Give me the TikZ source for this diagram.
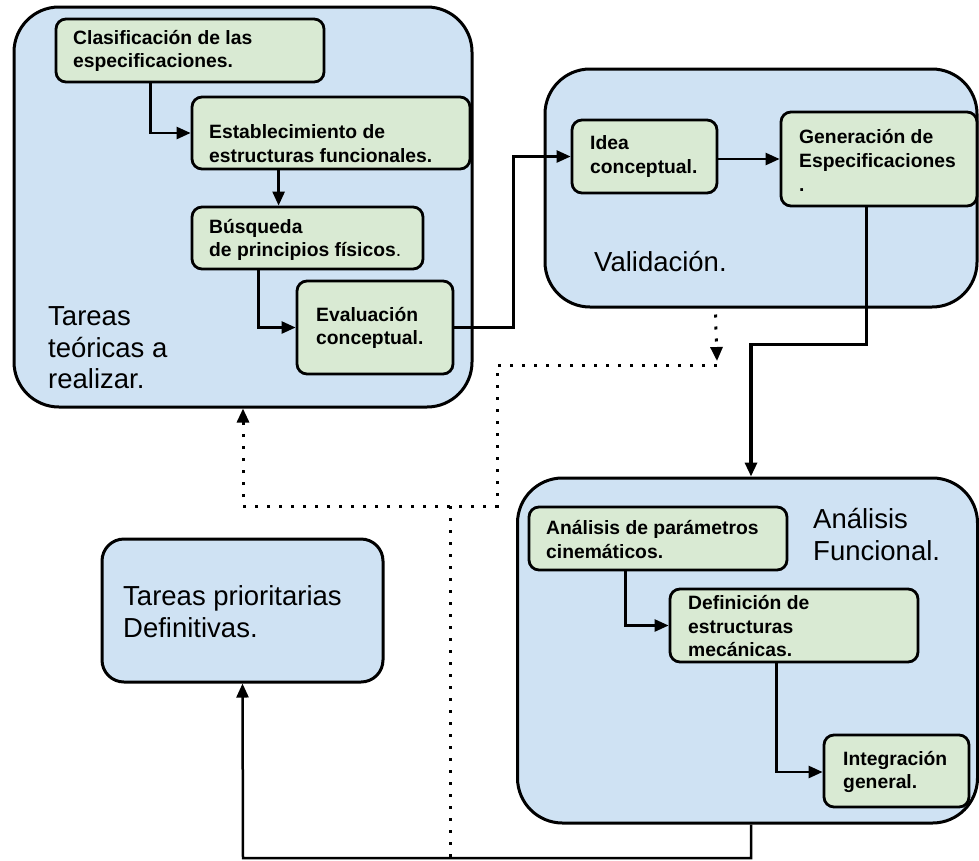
\documentclass[tikz,border=0pt]{standalone}
\usepackage{fontspec}
\setmainfont{Liberation Sans}
\usetikzlibrary{arrows.meta}
\definecolor{bluefill}{HTML}{CFE2F3}
\definecolor{greenfill}{HTML}{D9EAD3}
\tikzset{
  bigbox/.style={draw=black, line width=3pt, fill=bluefill, rounded corners=45pt, inner sep=0pt},
  smallbluebox/.style={draw=black, line width=3pt, fill=bluefill, rounded corners=22pt, inner sep=0pt},
  greenbox/.style={draw=black, line width=2.8pt, fill=greenfill, rounded corners=10pt, inner sep=0pt},
  bigtext/.style={anchor=west, inner sep=0pt, align=left, font=\fontsize{27.5}{31.5}\selectfont},
  boldtext/.style={anchor=west, inner sep=0pt, align=left, font=\fontsize{19.3}{23.5}\selectfont\bfseries},
  conn/.style={draw=black, line width=2.5pt, -{Triangle[length=14pt,width=12pt]}},
  dotline/.style={draw=black, line width=3pt, dash pattern=on 3pt off 9pt},
  dotarrow/.style={dotline, -{Triangle[length=14pt,width=12pt]}},
}
\begin{document}
\begin{tikzpicture}[x=1pt,y=-1pt]
\useasboundingbox (0,0) rectangle (979,860);
\fill[white] (0,0) rectangle (979,860);

% big containers
\node[bigbox, minimum width=458pt, minimum height=400pt] (B1) at (243,207) {};
\node[bigbox, minimum width=432pt, minimum height=238pt] (B2) at (761,188) {};
\node[bigbox, minimum width=460pt, minimum height=345pt] (B3) at (747.5,650.5) {};
\node[smallbluebox, minimum width=281pt, minimum height=143pt] (B4) at (242.5,610.5) {};

% container labels
\node[bigtext] (T1) at (48,348) {Tareas\\teóricas a\\realizar.};
\node[bigtext] (T2) at (594,262) {Validación.};
\node[bigtext] (T3) at (813,534.5) {Análisis\\Funcional.};
\node[bigtext] (T4) at (123,611.5) {Tareas prioritarias\\Definitivas.};

% green boxes
\node[greenbox, minimum width=268pt, minimum height=63pt] (G1) at (190,50.5) {};
\node[greenbox, minimum width=278pt, minimum height=72pt] (G2) at (331,133) {};
\node[greenbox, minimum width=231pt, minimum height=62pt] (G3) at (307.5,238) {};
\node[greenbox, minimum width=156pt, minimum height=93pt] (G4) at (375,327.5) {};
\node[greenbox, minimum width=145pt, minimum height=73pt] (G5) at (644.5,156.5) {};
\node[greenbox, minimum width=196pt, minimum height=94pt] (G6) at (879,159) {};
\node[greenbox, minimum width=258pt, minimum height=63pt] (G7) at (658,538.5) {};
\node[greenbox, minimum width=248pt, minimum height=73pt] (G8) at (794,625.5) {};
\node[greenbox, minimum width=145pt, minimum height=72pt] (G9) at (896.5,771) {};

% green box texts
\node[boldtext] (L1) at (73,51) {Clasificación de las\\especificaciones.};
\node[boldtext] (L2) at (209,143.5) {Establecimiento de\\estructuras funcionales.};
\node[boldtext] (L3) at (209,240) {Búsqueda\\de principios físicos{\mdseries.}};
\node[boldtext] (L4) at (316,328) {Evaluación\\conceptual.};
\node[boldtext] (L5) at (590,156.5) {Idea\\conceptual.};
\node[boldtext, font=\fontsize{19.3}{24}\selectfont\bfseries] (L6) at (799,160.5) {Generación de\\Especificaciones\\.};
\node[boldtext] (L7) at (546,539.5) {Análisis de parámetros\\cinemáticos.};
\node[boldtext] (L8) at (688,626.5) {Definición de\\estructuras\\mecánicas.};
\node[boldtext] (L9) at (843,772) {Integración\\general.};

% solid connectors
\draw[conn] ([xshift=96pt]G1.south west) |- (G2.west);
\draw[conn] ([xshift=88pt]G2.south west) -- ([xshift=88pt]G3.north west);
\draw[conn] ([xshift=68pt]G3.south west) |- (G4.west);
\draw[conn] (G4.east) -- ++(59,0) |- (G5.west);
\draw[conn] (G6.west -| G5.east) -- (G6.west);
\draw[conn, line width=3.2pt] ([xshift=87pt]G6.south west) -- ++(0,137) -| ([xshift=235pt]B3.north west);
\draw[conn] ([xshift=98pt]G7.south west) |- (G8.west);
\draw[conn] ([xshift=108pt]G8.south west) |- ([yshift=-1pt]G9.west);

% bottom return connector
\coordinate (bl) at (243,858);
\draw[conn] ([xshift=235pt]B3.south west) |- (bl) -- (B4.south);

% dotted connectors
\coordinate (dj) at (717,365);
\coordinate (dk) at (497,365);
\coordinate (dm) at (497,506);
\coordinate (dn) at (243,506);
\coordinate (dp) at (450,506);
\coordinate (dq) at (450,858);
\draw[dotarrow] ([xshift=172pt,yshift=-6pt]B2.south west) -- ([yshift=4pt]dj);
\draw[dotarrow] (dj) -- (dk) -- (dm) -- (dn) -- (B1.south);
\draw[dotline] (dp) -- (dq);
\end{tikzpicture}
\end{document}
